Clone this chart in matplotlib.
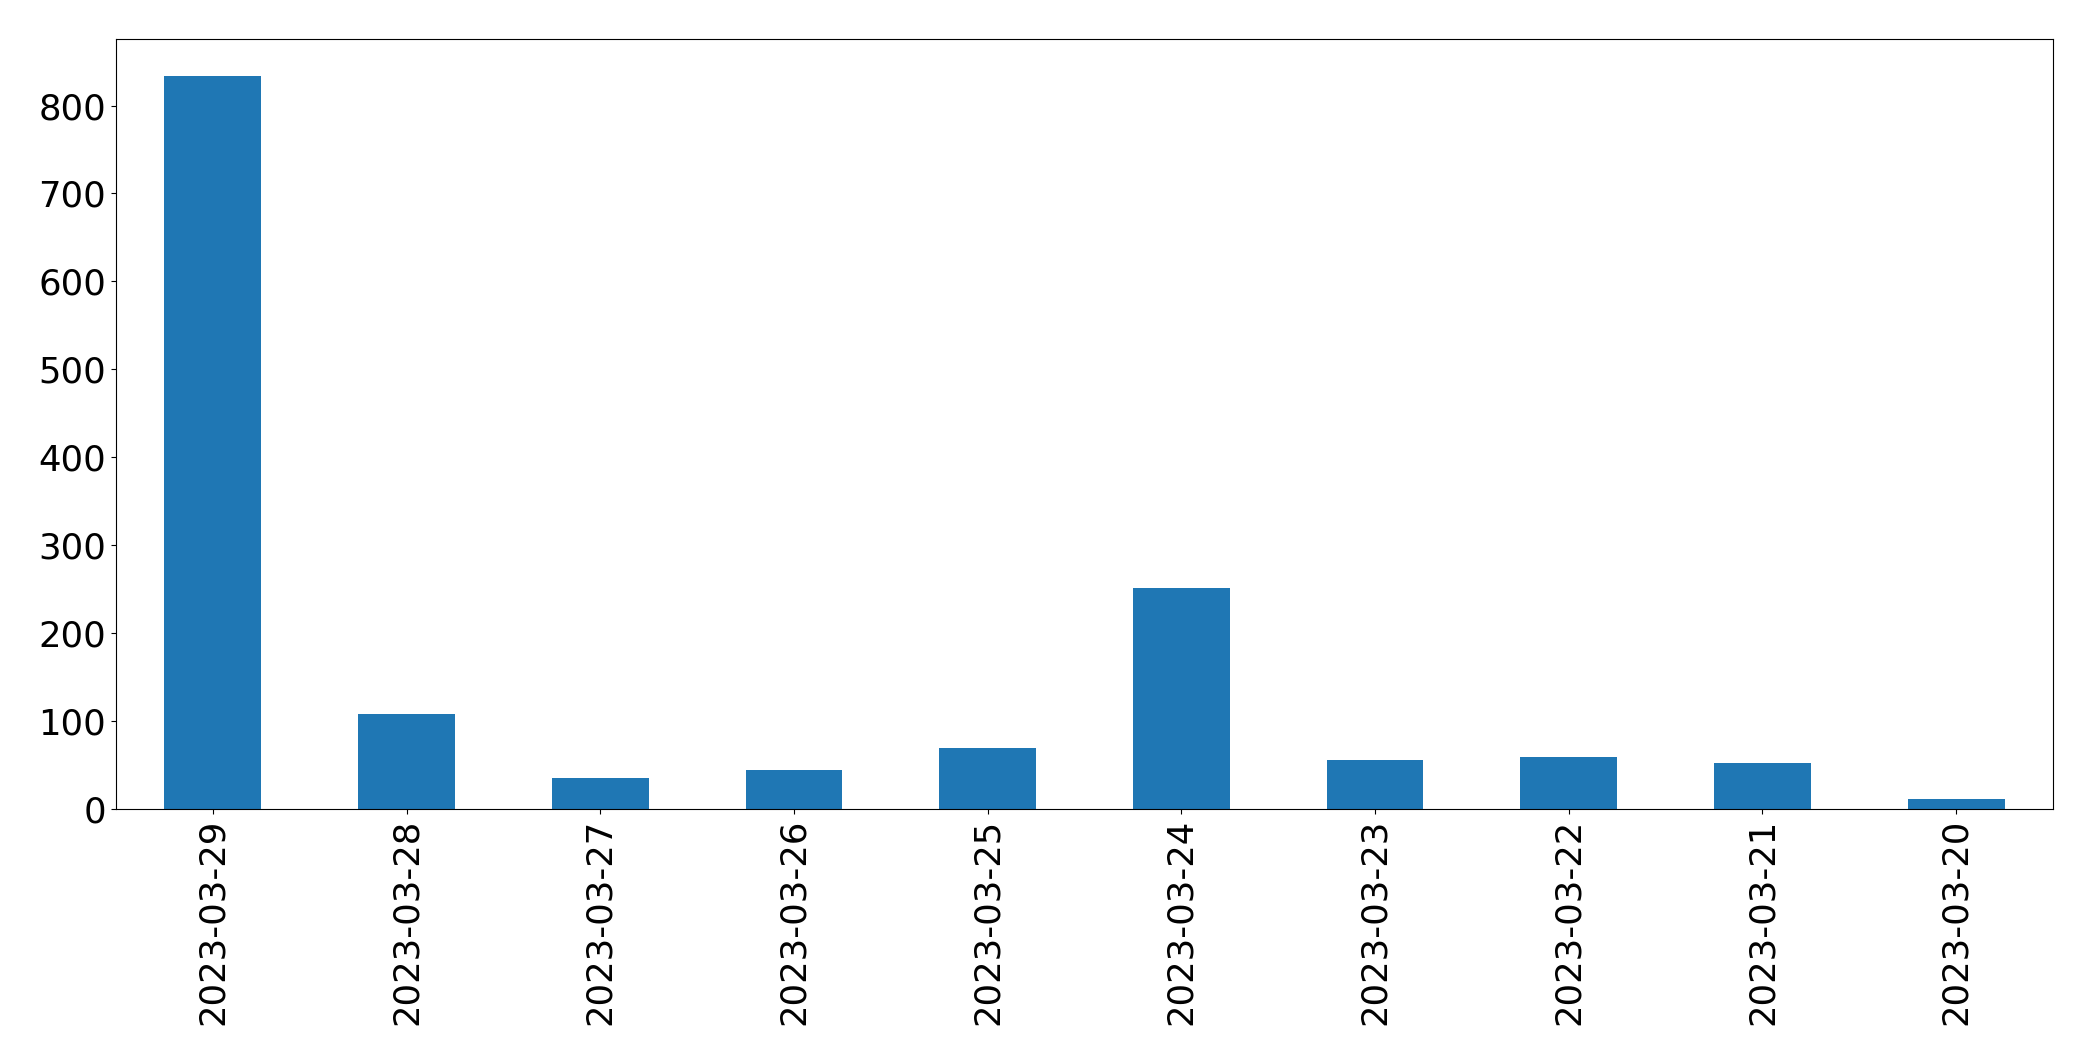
import matplotlib
matplotlib.use("Agg")
import matplotlib.pyplot as plt
import numpy as np

dates = ["2023-03-29", "2023-03-28", "2023-03-27", "2023-03-26", "2023-03-25",
         "2023-03-24", "2023-03-23", "2023-03-22", "2023-03-21", "2023-03-20"]
counts = [834, 108, 35, 44, 69, 251, 56, 59, 52, 11]

fig = plt.figure(figsize=(20.93, 10.61), dpi=100)
ax = fig.add_axes([116/2093, 1 - 809/1061, (2053-116)/2093, (809-39)/1061])
x = np.arange(len(dates))
ax.bar(x, counts, width=0.5, color="#1f77b4")
ax.set_xlim(-0.5, len(dates) - 0.5)
ax.set_ylim(0, max(counts) * 1.05)
ax.set_xticks(x)
ax.set_xticklabels(dates, rotation=90)
ax.tick_params(axis="both", labelsize=25.6)
fig.savefig("out.png", dpi=100)
